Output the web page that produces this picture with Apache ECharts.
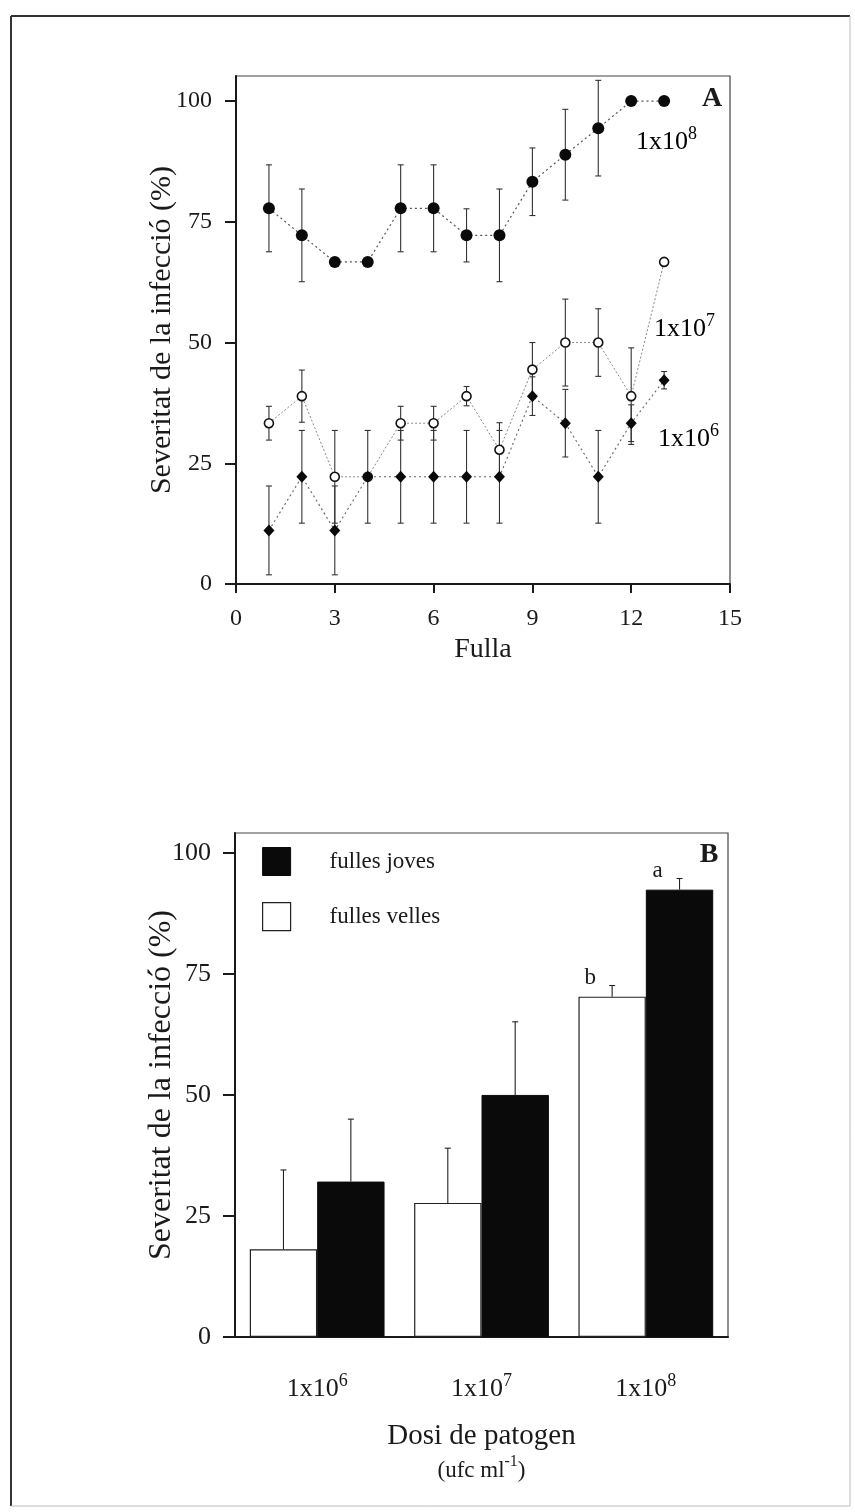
<!DOCTYPE html>
<html>
<head>
<meta charset="utf-8">
<script src="https://cdn.jsdelivr.net/npm/echarts@6/dist/echarts.min.js"></script>
<style>
  html, body { margin: 0; padding: 0; background: #ffffff; }
  #chart { width: 855px; height: 1512px; }
</style>
</head>
<body>
<div id="chart"></div>
<script>
// Panel A: infection severity per leaf position, three inoculum doses
const fulla = [1, 2, 3, 4, 5, 6, 7, 8, 9, 10, 11, 12, 13];
const sev1e8 = [77.8, 72.2, 66.7, 66.7, 77.8, 77.8, 72.2, 72.2, 83.3, 88.9, 94.4, 100, 100];
const err1e8 = [9.0, 9.6, 0, 0, 9.0, 9.0, 5.5, 9.6, 7.0, 9.4, 9.9, 0, 0];
const sev1e7 = [33.3, 38.9, 22.2, 22.2, 33.3, 33.3, 38.9, 27.8, 44.4, 50.0, 50.0, 38.9, 66.7];
const err1e7 = [3.5, 5.4, 9.6, 0, 3.5, 3.5, 2.0, 5.6, 5.6, 9.0, 7.0, 10.0, 0];
const sev1e6 = [11.1, 22.2, 11.1, 22.2, 22.2, 22.2, 22.2, 22.2, 38.9, 33.3, 22.2, 33.3, 42.2];
const err1e6 = [9.2, 9.6, 9.2, 9.6, 9.6, 9.6, 9.6, 9.6, 4.0, 7.0, 9.6, 3.8, 1.8];
const ticksA = [0, 25, 50, 75, 100];

// Panel B: young vs old leaves per dose
const doses = ['6', '7', '8'];            // exponents of 1x10^n ufc/ml
const sevVelles = [18.1, 27.7, 70.3];
const errVelles = [16.4, 11.3, 2.3];
const sevJoves = [32.1, 50.0, 92.4];
const errJoves = [12.9, 15.1, 2.3];
const lettersVelles = ['', '', 'b'];
const lettersJoves = ['', '', 'a'];
const ticksB = [0, 25, 50, 75, 100];

const SERIF = "'Liberation Serif', 'Times New Roman', serif";
const INK = '#1a1a1a';
const BAR_RATIO = 0.41;

const chart = echarts.init(document.getElementById('chart'));

function errData(vals, errs) {
  const out = [];
  vals.forEach((v, i) => {
    if (errs[i] > 0) out.push([fulla[i], v - errs[i], v + errs[i]]);
  });
  return out;
}

function renderErrA(params, api) {
  const x = api.value(0);
  const pHi = api.coord([x, api.value(2)]);
  const pLo = api.coord([x, api.value(1)]);
  const w = 3;
  const st = { stroke: '#333', lineWidth: 1.1 };
  return {
    type: 'group',
    children: [
      { type: 'line', shape: { x1: pHi[0], y1: pHi[1], x2: pLo[0], y2: pLo[1] }, style: st },
      { type: 'line', shape: { x1: pHi[0] - w, y1: pHi[1], x2: pHi[0] + w, y2: pHi[1] }, style: st },
      { type: 'line', shape: { x1: pLo[0] - w, y1: pLo[1], x2: pLo[0] + w, y2: pLo[1] }, style: st }
    ]
  };
}

function errSeriesA(vals, errs) {
  return {
    type: 'custom',
    xAxisIndex: 0, yAxisIndex: 0,
    renderItem: renderErrA,
    encode: { x: 0, y: [1, 2] },
    data: errData(vals, errs),
    z: 1,
    silent: true
  };
}

// upward-only error bars over the paired bars; side -1 = left bar, +1 = right bar
function errSeriesB(vals, errs, letters, side) {
  return {
    type: 'custom',
    xAxisIndex: 1, yAxisIndex: 1,
    renderItem: function (params, api) {
      const i = api.value(0);
      const base = api.coord([i, api.value(1)]);
      const top = api.coord([i, api.value(1) + api.value(2)]);
      const bw = api.size([1, 0])[0] * BAR_RATIO;
      const x = base[0] + side * bw / 2;
      const st = { stroke: '#222', lineWidth: 1.1 };
      const children = [
        { type: 'line', shape: { x1: x, y1: base[1], x2: x, y2: top[1] }, style: st },
        { type: 'line', shape: { x1: x - 3, y1: top[1], x2: x + 3, y2: top[1] }, style: st }
      ];
      const letter = letters[i];
      if (letter) {
        children.push({
          type: 'text',
          style: {
            text: letter, x: x - 22, y: top[1] + 4,
            align: 'center', verticalAlign: 'bottom',
            font: '23px ' + SERIF, fill: INK
          }
        });
      }
      return { type: 'group', children: children };
    },
    encode: { x: 0, y: 1 },
    data: vals.map((v, i) => [i, v, errs[i]]),
    z: 3,
    silent: true
  };
}

const supRich = {
  n: { fontFamily: SERIF, fontSize: 26, lineHeight: 30, color: INK, verticalAlign: 'bottom' },
  s: { fontFamily: SERIF, fontSize: 18, lineHeight: 18, color: INK, verticalAlign: 'top' }
};

function doseLabel(x, y, exp) {
  return {
    type: 'text',
    style: {
      text: '{n|1x10}{s|' + exp + '}',
      x: x, y: y, align: 'left', verticalAlign: 'middle',
      rich: supRich
    }
  };
}

const option = {
  animation: false,
  backgroundColor: '#ffffff',
  textStyle: { fontFamily: SERIF },
  grid: [
    { left: 236, top: 76, width: 494, height: 508, show: true, borderColor: '#444', borderWidth: 1.2, backgroundColor: 'transparent' },
    { left: 235, top: 833, width: 493, height: 504, show: true, borderColor: '#444', borderWidth: 1.2, backgroundColor: 'transparent' }
  ],
  xAxis: [
    {
      gridIndex: 0, type: 'value', min: 0, max: 15, interval: 3,
      name: 'Fulla', nameLocation: 'middle', nameGap: 52, nameMoveOverlap: false,
      nameTextStyle: { fontFamily: SERIF, fontSize: 28, color: INK },
      axisLine: { show: true, lineStyle: { color: INK, width: 2 } },
      axisTick: { show: true, inside: false, length: 9, lineStyle: { color: INK, width: 2 } },
      axisLabel: { fontFamily: SERIF, fontSize: 24, color: INK, margin: 23 },
      splitLine: { show: false }
    },
    {
      gridIndex: 1, type: 'category', data: doses,
      name: '{t|Dosi de patogen}\n{u|(ufc ml}{s|-1}{u|)}',
      nameLocation: 'middle', nameGap: 81, nameMoveOverlap: false,
      nameTextStyle: {
        rich: {
          t: { fontFamily: SERIF, fontSize: 29, lineHeight: 36, color: INK },
          u: { fontFamily: SERIF, fontSize: 23, lineHeight: 28, color: INK, verticalAlign: 'bottom' },
          s: { fontFamily: SERIF, fontSize: 16, lineHeight: 16, color: INK, verticalAlign: 'top' }
        }
      },
      axisLine: { show: true, lineStyle: { color: INK, width: 2 } },
      axisTick: { show: false },
      axisLabel: {
        margin: 35,
        formatter: v => '{n|1x10}{s|' + v + '}',
        rich: supRich
      },
      splitLine: { show: false }
    }
  ],
  yAxis: [
    {
      gridIndex: 0, type: 'value', min: 0, max: 105.2,
      name: 'Severitat de la infecció (%)', nameLocation: 'middle', nameGap: 59, nameMoveOverlap: false,
      nameTextStyle: { fontFamily: SERIF, fontSize: 30, color: INK },
      axisLine: { show: true, lineStyle: { color: INK, width: 2 } },
      axisTick: { show: true, length: 11, lineStyle: { color: INK, width: 2 }, customValues: ticksA },
      axisLabel: { fontFamily: SERIF, fontSize: 24, color: INK, margin: 24, customValues: ticksA },
      splitLine: { show: false }
    },
    {
      gridIndex: 1, type: 'value', min: 0, max: 104.1,
      name: 'Severitat de la infecció (%)', nameLocation: 'middle', nameGap: 57, nameMoveOverlap: false,
      nameTextStyle: { fontFamily: SERIF, fontSize: 32, color: INK },
      axisLine: { show: true, lineStyle: { color: INK, width: 2 } },
      axisTick: { show: true, length: 12, lineStyle: { color: INK, width: 2 }, customValues: ticksB },
      axisLabel: { fontFamily: SERIF, fontSize: 26, color: INK, margin: 24, customValues: ticksB },
      splitLine: { show: false }
    }
  ],
  legend: {
    orient: 'vertical', left: 257, top: 842,
    itemWidth: 28, itemHeight: 28, itemGap: 26,
    icon: 'rect',
    selectedMode: false,
    textStyle: { fontFamily: SERIF, fontSize: 23, color: INK, padding: [0, 0, 0, 34] },
    data: [
      { name: 'fulles joves', itemStyle: { color: '#0a0a0a', borderColor: '#0a0a0a', borderWidth: 1 } },
      { name: 'fulles velles', itemStyle: { color: '#ffffff', borderColor: '#222', borderWidth: 1.2 } }
    ]
  },
  series: [
    errSeriesA(sev1e8, err1e8),
    errSeriesA(sev1e7, err1e7),
    errSeriesA(sev1e6, err1e6),
    {
      name: '1x10^7', type: 'line', xAxisIndex: 0, yAxisIndex: 0,
      data: fulla.map((x, i) => [x, sev1e7[i]]),
      symbol: 'circle', symbolSize: 9,
      itemStyle: { color: '#ffffff', borderColor: '#111', borderWidth: 1.6 },
      lineStyle: { color: '#888', width: 1, type: [2, 2] },
      z: 4
    },
    {
      name: '1x10^6', type: 'line', xAxisIndex: 0, yAxisIndex: 0,
      data: fulla.map((x, i) => [x, sev1e6[i]]),
      symbol: 'diamond', symbolSize: [11, 12],
      itemStyle: { color: '#0a0a0a', borderWidth: 0 },
      lineStyle: { color: '#666', width: 1.1, type: [2, 3] },
      z: 5
    },
    {
      name: '1x10^8', type: 'line', xAxisIndex: 0, yAxisIndex: 0,
      data: fulla.map((x, i) => [x, sev1e8[i]]),
      symbol: 'circle', symbolSize: 12,
      itemStyle: { color: '#0a0a0a', borderWidth: 0 },
      lineStyle: { color: '#555', width: 1.2, type: [2, 3] },
      z: 5
    },
    {
      name: 'fulles velles', type: 'bar', xAxisIndex: 1, yAxisIndex: 1,
      data: sevVelles,
      barWidth: (BAR_RATIO * 100) + '%', barGap: '0%',
      itemStyle: { color: '#ffffff', borderColor: '#222', borderWidth: 1.2 },
      z: 2
    },
    {
      name: 'fulles joves', type: 'bar', xAxisIndex: 1, yAxisIndex: 1,
      data: sevJoves,
      barWidth: (BAR_RATIO * 100) + '%', barGap: '0%',
      itemStyle: { color: '#0a0a0a', borderColor: '#0a0a0a', borderWidth: 1 },
      z: 2
    },
    errSeriesB(sevVelles, errVelles, lettersVelles, -1),
    errSeriesB(sevJoves, errJoves, lettersJoves, 1)
  ],
  graphic: [
    // outer frame of the figure
    { type: 'line', shape: { x1: 11, y1: 16, x2: 850, y2: 16 }, style: { stroke: '#333', lineWidth: 2 } },
    { type: 'line', shape: { x1: 11, y1: 16, x2: 11, y2: 1506 }, style: { stroke: '#333', lineWidth: 2 } },
    { type: 'line', shape: { x1: 850, y1: 16, x2: 850, y2: 1506 }, style: { stroke: '#bbb', lineWidth: 1 } },
    { type: 'line', shape: { x1: 11, y1: 1506, x2: 850, y2: 1506 }, style: { stroke: '#bbb', lineWidth: 1 } },
    // panel letters
    { type: 'text', style: { text: 'A', x: 712, y: 99, align: 'center', verticalAlign: 'middle', font: 'bold 28px ' + SERIF, fill: INK } },
    { type: 'text', style: { text: 'B', x: 709, y: 855, align: 'center', verticalAlign: 'middle', font: 'bold 28px ' + SERIF, fill: INK } },
    // dose labels beside the curves
    doseLabel(636, 140, '8'),
    doseLabel(654, 327, '7'),
    doseLabel(658, 437, '6')
  ]
};

chart.setOption(option);
</script>
</body>
</html>
